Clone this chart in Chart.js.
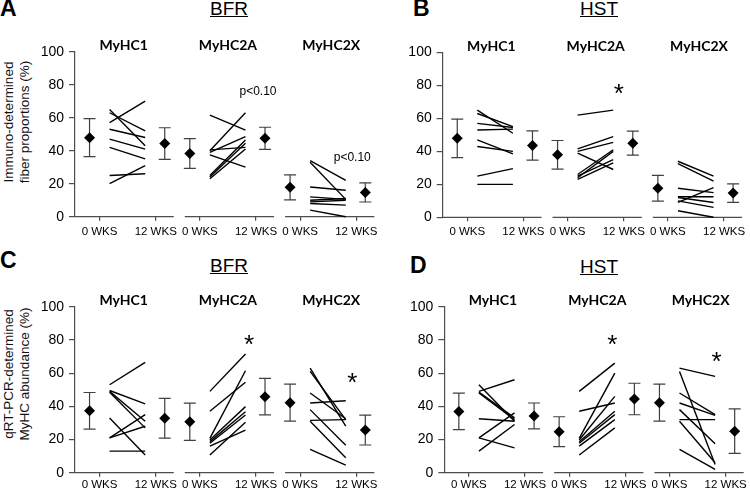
<!DOCTYPE html>
<html>
<head>
<meta charset="utf-8">
<script src="https://cdn.jsdelivr.net/npm/chart.js@4.4.1/dist/chart.umd.min.js"></script>
<style>
  html, body { margin: 0; padding: 0; background: #fff; }
  body { width: 750px; height: 490px; position: relative; overflow: hidden;
         font-family: 'Liberation Sans', Arial, sans-serif; color: #000; }
  canvas.panel { position: absolute; }
  .letter { position: absolute; font-weight: bold; font-size: 23px; line-height: 1; }
  .head { position: absolute; font-size: 19px; line-height: 1; text-decoration: underline;
          transform: translateX(-50%); white-space: nowrap; }
  .ytitle { position: absolute; font-size: 13.5px; line-height: 16px; text-align: center; color: #111;
            white-space: nowrap; transform: translate(-50%, -50%) rotate(-90deg); }
</style>
</head>
<body>
<div class="letter" style="left:0;top:-3px">A</div>
<div class="letter" style="left:413px;top:-3px">B</div>
<div class="letter" style="left:0;top:249px">C</div>
<div class="letter" style="left:410px;top:254px">D</div>
<div class="head" style="left:229px;top:-1px">BFR</div>
<div class="head" style="left:599px;top:-1px">HST</div>
<div class="head" style="left:229px;top:256px">BFR</div>
<div class="head" style="left:599px;top:257px">HST</div>
<div class="ytitle" style="left:16.5px;top:122px">Immuno-determined<br>fiber proportions (%)</div>
<div class="ytitle" style="left:16.5px;top:374px">qRT-PCR-determined<br>MyHC abundance (%)</div>

<script>
// categories / tick labels
const groups = ['MyHC1', 'MyHC2A', 'MyHC2X'];
const timeLabels = ['0 WKS', '12 WKS'];
const yTicks = [0, 20, 40, 60, 80, 100];

// A - BFR, immuno-determined fiber proportions (individual subjects 0 -> 12 wks)
const aPre = [
  [65, 63, 57, 53, 47, 42, 25, 20],
  [61.5, 40, 39, 40.5, 37.5, 25, 24, 23],
  [34, 33, 18, 12, 10, 9, 8, 4]
];
const aPost = [
  [43, 52, 70, 48, 41, 35, 26, 31],
  [52.5, 63, 48.5, 42, 30, 46.5, 44.5, 41],
  [22, 10.5, 16, 10.5, 11, 10, 7, 0]
];
const aMean0 = [47.9, 38.3, 17.8];
const aSd0 = [11.5, 9.0, 7.6];
const aMean12 = [44.3, 47.5, 14.7];
const aSd12 = [9.6, 6.7, 5.8];
const aNotes = ['', 'p<0.10', 'p<0.10'];

// B - HST, immuno-determined
const bPre = [
  [65, 63, 57, 53, 47, 43, 25, 20],
  [62, 41.5, 40, 39, 26, 25, 24, 23],
  [34, 32.5, 17.6, 12.5, 9, 12, 10, 4]
];
const bPost = [
  [51, 55, 54.5, 53.5, 38.5, 40, 29.5, 20],
  [65, 49, 45.5, 29, 41, 35, 40, 33],
  [25, 22, 15, 12.5, 18, 9, 6, 0]
];
const bMean0 = [47.9, 37.9, 17.6];
const bSd0 = [11.7, 8.7, 7.8];
const bMean12 = [43.6, 45.0, 14.7];
const bSd12 = [8.9, 7.3, 5.6];
const bNotes = ['', '*', ''];

// C - BFR, qRT-PCR-determined MyHC abundance
const cPre = [
  [53, 49.5, 49, 48.5, 33, 21, 21, 13],
  [49, 37, 20.7, 19.7, 18.7, 17.7, 16, 10.7],
  [63, 61, 48, 42, 38, 31.5, 31, 14]
];
const cPost = [
  [66.5, 41.5, 31, 27, 10.7, 35, 28, 13],
  [71.5, 54.5, 61.4, 39.8, 36.7, 34.8, 25.7, 30.4],
  [28, 32, 32.5, 43.3, 16.5, 32, 9, 4.5]
];
const cMean0 = [37.3, 30.7, 42.2];
const cSd0 = [11.0, 11.2, 11.1];
const cMean12 = [32.8, 45.8, 25.7];
const cSd12 = [12.0, 11.0, 9.0];
const cNotes = ['', '*', '*'];

// D - HST, qRT-PCR-determined
const dPre = [
  [53, 49, 48.5, 48, 32.5, 21, 21, 13],
  [49, 37, 20.7, 19.7, 18.7, 17.7, 16, 10.7],
  [63, 61, 48, 42, 38, 32, 31, 14]
];
const dPost = [
  [31, 56, 33, 32, 31, 15, 36, 29],
  [66, 42, 60, 46, 37, 35, 32, 27],
  [58, 5, 35, 34.5, 17.5, 32, 6, 2]
];
const dMean0 = [36.9, 24.7, 42.2];
const dSd0 = [11.0, 9.0, 11.1];
const dMean12 = [34.2, 44.4, 25.0];
const dSd12 = [7.8, 9.5, 13.4];
const dNotes = ['', '*', '*'];

// layout (x in "group" units, one group = GROUP_W px)
const GROUP_W = 102;
const X_MIN = -0.345;
const POS = { mean0: -0.2, tick0: -0.1, pre: 0, post: 0.355, tick12: 0.46, mean12: 0.55, segL: -0.25, segR: 0.64 };
const LABEL_OFF = [0.14, 0.18, 0.21];
const X_AXIS_H = 22, Y_AXIS_W = 40;
const AXIS = '#4d4d4d', ERR = '#404040';

Chart.defaults.font.family = "'Liberation Sans', Arial, sans-serif";

const panelDecor = {
  id: 'panelDecor',
  beforeDatasetsDraw(chart, args, opts) {
    const { ctx, scales: { x, y } } = chart;
    ctx.save();
    // split baseline, one piece per fibre type
    ctx.strokeStyle = AXIS;
    ctx.lineWidth = 1.2;
    const y0 = y.getPixelForValue(0);
    groups.forEach((g, i) => {
      const x1 = x.getPixelForValue(i === 0 ? x.min : i + POS.segL);
      const x2 = x.getPixelForValue(i + POS.segR);
      ctx.beginPath(); ctx.moveTo(x1, y0); ctx.lineTo(x2, y0); ctx.stroke();
    });
    // error bars (mean +/- SD)
    ctx.strokeStyle = ERR;
    chart.data.datasets.forEach(ds => {
      if (!ds.errorBars) return;
      ds.data.forEach(pt => {
        const px = x.getPixelForValue(pt.x);
        const top = y.getPixelForValue(pt.y + pt.sd);
        const bot = y.getPixelForValue(pt.y - pt.sd);
        ctx.beginPath();
        ctx.moveTo(px, top); ctx.lineTo(px, bot);
        ctx.moveTo(px - 6, top); ctx.lineTo(px + 6, top);
        ctx.moveTo(px - 6, bot); ctx.lineTo(px + 6, bot);
        ctx.stroke();
      });
    });
    ctx.restore();
  },
  afterDraw(chart, args, opts) {
    const { ctx, scales: { x, y } } = chart;
    ctx.save();
    ctx.fillStyle = '#000';
    ctx.textAlign = 'center';
    ctx.font = 'bold 14px Lato';
    groups.forEach((g, i) => {
      ctx.fillText(g, x.getPixelForValue(i + LABEL_OFF[i]), y.getPixelForValue(100) - 2);
    });
    opts.notes.forEach((t, i) => {
      if (!t) return;
      const [dx, vy] = opts.noteAt[i];
      const px = x.getPixelForValue(i + dx), py = y.getPixelForValue(vy);
      if (t === '*') {
        ctx.font = '26px "Liberation Sans"';
        ctx.textBaseline = 'alphabetic';
        ctx.fillText(t, px, py + 15);
      } else {
        ctx.font = '12px "Liberation Sans"';
        ctx.textBaseline = 'middle';
        ctx.fillText(t, px, py);
      }
    });
    ctx.restore();
  }
};

const panels = [
  { left: 0, top: 0, w: 400, h: 245, padL: 35, plotTop: 51.7, plotBottom: 216.7, tickPad: 4,
    pre: aPre, post: aPost, mean0: aMean0, sd0: aSd0, mean12: aMean12, sd12: aSd12,
    notes: aNotes, noteAt: [null, [0.48, 76], [0.42, 36]] },
  { left: 375, top: 0, w: 400, h: 245, padL: 27.7, plotTop: 52.5, plotBottom: 217.3, tickPad: 4,
    pre: bPre, post: bPost, mean0: bMean0, sd0: bSd0, mean12: bMean12, sd12: bSd12,
    notes: bNotes, noteAt: [null, [0.41, 79], null] },
  { left: 0, top: 245, w: 400, h: 260, padL: 35, plotTop: 61.7, plotBottom: 227.7, tickPad: 1,
    pre: cPre, post: cPost, mean0: cMean0, sd0: cSd0, mean12: cMean12, sd12: cSd12,
    notes: cNotes, noteAt: [null, [0.39, 81], [0.42, 58]] },
  { left: 375, top: 245, w: 400, h: 260, padL: 29.3, plotTop: 61.7, plotBottom: 227.7, tickPad: 1,
    pre: dPre, post: dPost, mean0: dMean0, sd0: dSd0, mean12: dMean12, sd12: dSd12,
    notes: dNotes, noteAt: [null, [0.33, 81], [0.37, 71]] }
];

function buildPanel(p) {
  const canvas = document.createElement('canvas');
  canvas.className = 'panel';
  canvas.width = p.w;
  canvas.height = p.h;
  canvas.style.left = p.left + 'px';
  canvas.style.top = p.top + 'px';
  document.body.appendChild(canvas);

  const datasets = [];
  groups.forEach((g, i) => {
    p.pre[i].forEach((v, j) => {
      datasets.push({
        data: [{ x: i + POS.pre, y: v }, { x: i + POS.post, y: p.post[i][j] }],
        showLine: true, borderColor: '#000', borderWidth: 1.4,
        pointRadius: 0, clip: false
      });
    });
  });
  const meanPts = [];
  groups.forEach((g, i) => {
    meanPts.push({ x: i + POS.mean0, y: p.mean0[i], sd: p.sd0[i] });
    meanPts.push({ x: i + POS.mean12, y: p.mean12[i], sd: p.sd12[i] });
  });
  datasets.push({
    data: meanPts, errorBars: true, pointStyle: 'rectRot', pointRadius: 5.5,
    backgroundColor: '#000', borderWidth: 0, clip: false
  });

  return new Chart(canvas, {
    type: 'scatter',
    data: { datasets },
    options: {
      responsive: false,
      animation: false,
      events: [],
      layout: { padding: { left: p.padL, top: p.plotTop, right: 0, bottom: p.h - p.plotBottom - X_AXIS_H } },
      plugins: {
        legend: { display: false },
        tooltip: { enabled: false },
        panelDecor: { notes: p.notes, noteAt: p.noteAt }
      },
      scales: {
        x: {
          type: 'linear',
          min: X_MIN,
          max: X_MIN + (p.w - p.padL - Y_AXIS_W) / GROUP_W,
          afterFit: s => { s.height = X_AXIS_H; },
          afterBuildTicks: s => {
            s.ticks = [];
            groups.forEach((g, i) => {
              s.ticks.push({ value: i + POS.tick0 }, { value: i + POS.tick12 });
            });
          },
          border: { display: false },
          grid: { drawOnChartArea: false, drawTicks: true, tickLength: 4, color: AXIS, lineWidth: 1.2 },
          ticks: {
            autoSkip: false, maxRotation: 0, padding: p.tickPad, color: '#000',
            font: { size: 11.5 },
            callback: (v, i) => timeLabels[i % 2]
          }
        },
        y: {
          min: 0,
          max: 100,
          afterFit: s => { s.width = Y_AXIS_W; },
          afterBuildTicks: s => { s.ticks = yTicks.map(v => ({ value: v })); },
          border: { color: AXIS, width: 1.2 },
          grid: { drawOnChartArea: false, tickLength: 6, color: AXIS, lineWidth: 1.2 },
          ticks: { padding: 5, color: '#000', font: { size: 14 } }
        }
      }
    },
    plugins: [panelDecor]
  });
}

panels.forEach(buildPanel);
</script>
</body>
</html>
